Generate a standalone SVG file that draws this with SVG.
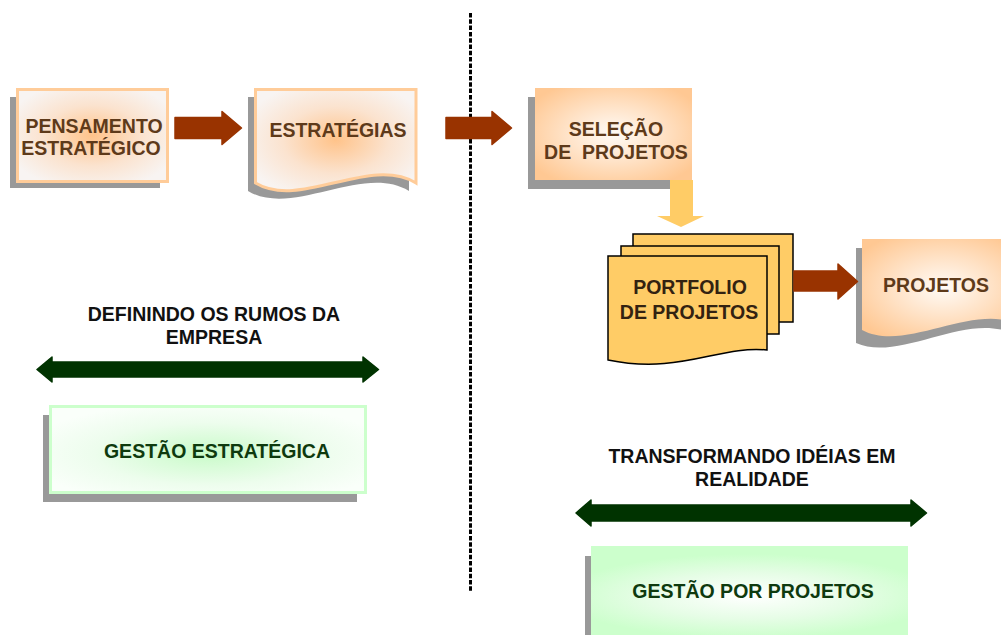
<svg xmlns="http://www.w3.org/2000/svg" width="1001" height="635" viewBox="0 0 1001 635">
<defs>
<radialGradient id="gOrangeIn" cx="0.5" cy="0.5" r="0.6">
<stop offset="0" stop-color="#FFC38A"/>
<stop offset="0.55" stop-color="#FBE3CF"/>
<stop offset="1" stop-color="#F8F4F2"/>
</radialGradient>
<radialGradient id="gOrangeOut" cx="0.5" cy="0.5" r="0.62">
<stop offset="0" stop-color="#FFFBF7"/>
<stop offset="0.5" stop-color="#FFE2C6"/>
<stop offset="1" stop-color="#FFC893"/>
</radialGradient>
<radialGradient id="gGreenIn" cx="0.5" cy="0.55" r="0.6">
<stop offset="0" stop-color="#C9FBC9"/>
<stop offset="0.6" stop-color="#EDFDED"/>
<stop offset="1" stop-color="#FAFFFA"/>
</radialGradient>
<radialGradient id="gGreenOut" cx="0.5" cy="0.5" r="0.6" gradientTransform="translate(0.5 0.5) scale(1 0.7) translate(-0.5 -0.5)">
<stop offset="0" stop-color="#FFFFFF"/>
<stop offset="0.55" stop-color="#E6FDE6"/>
<stop offset="1" stop-color="#CCFFCC"/>
</radialGradient>
</defs>
<style>
.shadow{fill:#999999}
.lbl{font-family:"Liberation Sans",Arial,sans-serif;font-weight:bold;font-size:19.5px;text-anchor:middle}
.brown{fill:#5E3A1A}
.dark{fill:#332211}
.black{fill:#111111}
.green{fill:#0E3A0E}
.arrowB{fill:#993300;stroke:#993300;stroke-width:1.5;stroke-linejoin:round}
.arrowG{fill:#003300;stroke:#003300;stroke-width:1.5;stroke-linejoin:round}
.sheet{fill:#FFCC66;stroke:#000000;stroke-width:1.5}
</style>

<g id="divider">
<line x1="470.5" y1="13" x2="470.5" y2="592" stroke="#000" stroke-width="3" stroke-dasharray="4.5 1.8"/>
</g>

<g id="pensamento">
<rect class="shadow" x="10" y="97" width="150" height="91"/>
<rect x="17.5" y="89.5" width="150" height="92" fill="url(#gOrangeIn)" stroke="#FFCC99" stroke-width="3"/>
<text class="lbl brown" x="94" y="133">PENSAMENTO</text>
<text class="lbl brown" x="91" y="155">ESTRATÉGICO</text>
</g>

<g id="estrategias">
<path class="shadow" d="M248,97 H409 V191 C363,163 293,218 248,191 Z"/>
<path d="M255.5,89.5 H416 V183 C370,155 300,210 255.5,183 Z" fill="url(#gOrangeIn)" stroke="#FFCC99" stroke-width="3"/>
<text class="lbl brown" x="338" y="137">ESTRATÉGIAS</text>
</g>

<g id="selecao">
<rect class="shadow" x="528" y="97" width="157" height="92"/>
<rect x="535" y="88" width="157" height="92" fill="url(#gOrangeOut)"/>
<text class="lbl brown" x="616" y="136">SELEÇÃO</text>
<text class="lbl brown" x="616" y="159" xml:space="preserve">DE  PROJETOS</text>
</g>

<g id="portfolio">
<rect class="sheet" x="633" y="234" width="160" height="88"/>
<rect class="sheet" x="621" y="246" width="158" height="88"/>
<path class="sheet" d="M608,256 H767 V350 C720,345 680,375 608,360 Z"/>
<text class="lbl dark" x="690" y="294">PORTFOLIO</text>
<text class="lbl dark" x="689" y="319">DE PROJETOS</text>
</g>

<g id="projetos">
<path class="shadow" d="M856,248 H1017 V336 C971,308 901,363 856,343 Z"/>
<path d="M862,239 H1023 V327 C977,299 907,354 862,330 Z" fill="url(#gOrangeOut)"/>
<text class="lbl brown" x="936" y="292">PROJETOS</text>
</g>

<g id="gestao-estrategica">
<rect class="shadow" x="43" y="415" width="314" height="87"/>
<rect x="50.5" y="406.5" width="315" height="86" fill="url(#gGreenIn)" stroke="#CCFFCC" stroke-width="3"/>
<text class="lbl green" x="217" y="458">GESTÃO ESTRATÉGICA</text>
</g>

<g id="gestao-projetos">
<rect class="shadow" x="585" y="556" width="317" height="90"/>
<rect x="591" y="546" width="317" height="100" fill="url(#gGreenOut)"/>
<text class="lbl green" x="753" y="598">GESTÃO POR PROJETOS</text>
</g>

<g id="captions">
<text class="lbl black" x="214" y="321">DEFININDO OS RUMOS DA</text>
<text class="lbl black" x="214" y="344">EMPRESA</text>
<text class="lbl black" x="752" y="463">TRANSFORMANDO IDÉIAS EM</text>
<text class="lbl black" x="752" y="486">REALIDADE</text>
</g>

<g id="connectors">
<polygon class="arrowB" points="175,117.5 222,117.5 222,111.5 241.5,128 222,144.5 222,138.5 175,138.5"/>
<polygon class="arrowB" points="446,117.5 492,117.5 492,111.5 511.5,128 492,144.5 492,138.5 446,138.5"/>
<polygon class="arrowB" points="794,271 838,271 838,264 857.5,281.5 838,299 838,291 794,291"/>
<polygon fill="#FFCC66" points="670,180 693,180 693,216 704,216 681,227 657,216 670,216"/>
<polygon class="arrowG" points="37,369.5 52,357 52,362 363,362 363,357 378.5,369.5 363,382 363,377 52,377 52,382"/>
<polygon class="arrowG" points="576,513 591,500 591,505 911,505 911,500 926.5,513 911,526 911,521 591,521 591,526"/>
</g>
</svg>
